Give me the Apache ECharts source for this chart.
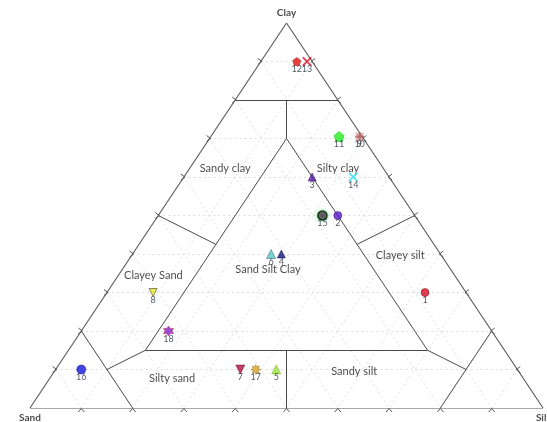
<!DOCTYPE html>
<html>
<head>
<meta charset="utf-8">
<script src="https://cdn.jsdelivr.net/npm/echarts@6/dist/echarts.min.js"></script>
<style>
  html, body { margin: 0; padding: 0; background: #fff; }
  #chart { width: 547px; height: 422px; }
</style>
</head>
<body>
<div id="chart"></div>
<script>
// Sediment samples: percentages of sand, silt and clay
const sampleIds = ['1','2','3','4','5','6','7','8','9','10','11','12','13','14','15','16','17','18'];
const sandPct = [8, 15, 15, 31, 47, 33, 54, 61, 0.5, 0.5, 4.5, 3, 1, 7, 18, 85, 51, 63];
const siltPct = [62, 35, 25, 29, 43, 27, 36, 9, 29, 29, 25, 7, 9, 33, 32, 5, 39, 17];
const clayPct = [30, 50, 60, 40, 10, 40, 10, 30, 70.5, 70.5, 70.5, 90, 90, 60, 50, 10, 10, 20];

// Ternary tick percentages on each side
const tickPct = [10, 20, 30, 40, 50, 60, 70, 80, 90];

// Corner names (sand, silt, clay apexes)
const cornerNames = ['Sand', 'Silt', 'Clay'];

// Shepard-type classes: names and where their captions sit (sand, silt, clay %)
const classNames = ['Sandy clay', 'Silty clay', 'Clayey Sand', 'Sand Silt Clay', 'Clayey silt', 'Silty sand', 'Sandy silt'];
const classAnchors = [[30.8, 6.9, 62.3], [8.8, 28.9, 62.3], [58.8, 6.9, 34.3], [35.6, 28.4, 36.0], [8.0, 52.3, 39.7], [68.4, 23.8, 7.8], [32.1, 58.5, 9.4]];

// Class boundaries as segments (sand, silt, clay %)
const classBoundaries = [
  [[20, 0, 80], [0, 20, 80]],
  [[80, 20, 0], [80, 0, 20]],
  [[20, 80, 0], [0, 80, 20]],
  [[70, 15, 15], [15, 70, 15]],
  [[15, 70, 15], [15, 15, 70]],
  [[15, 15, 70], [70, 15, 15]],
  [[10, 10, 80], [15, 15, 70]],
  [[50, 0, 50], [42.5, 15, 42.5]],
  [[0, 50, 50], [15, 42.5, 42.5]],
  [[80, 10, 10], [70, 15, 15]],
  [[10, 80, 10], [15, 70, 15]],
  [[50, 50, 0], [42.5, 42.5, 15]]
];

// ternary -> plot space: x = silt + clay/2, y = clay
function tern(sand, silt, clay) {
  const t = sand + silt + clay;
  return [(silt + clay / 2) / t, clay / t];
}

const outline = [
  [[100, 0, 0], [0, 100, 0]],
  [[0, 100, 0], [0, 0, 100]],
  [[0, 0, 100], [100, 0, 0]]
];

// dashed reference grid at every tick
const gridSegs = [];
tickPct.forEach(function (p) {
  const q = 100 - p;
  gridSegs.push([[q, 0, p], [0, q, p]]);   // constant clay
  gridSegs.push([[p, 0, q], [p, q, 0]]);   // constant sand
  gridSegs.push([[0, p, q], [q, p, 0]]);   // constant silt
});

function segData(segs) {
  return segs.map(function (s) {
    return { coords: [tern.apply(null, s[0]), tern.apply(null, s[1])] };
  });
}

// tick marks along the three sides: [x, y, side]
const tickData = [];
tickPct.forEach(function (p) {
  const a = tern(100 - p, 0, p);      // left side (sand-clay)
  tickData.push([a[0], a[1], 0]);
  const b = tern(0, 100 - p, p);      // right side (silt-clay)
  tickData.push([b[0], b[1], 1]);
  const c = tern(100 - p, p, 0);      // base (sand-silt)
  tickData.push([c[0], c[1], 2]);
});

// marker shapes and colours per sample
const P = {
  x: 'path://M1,0 L5,4 L9,0 L10,1 L6,5 L10,9 L9,10 L5,6 L1,10 L0,9 L4,5 L0,1 Z',
  plus: 'path://M4,0 H6 V4 H10 V6 H6 V10 H4 V6 H0 V4 H4 Z',
  down: 'path://M0,0 L10,0 L5,9 Z',
  star6: 'path://M5,0 L6.5,2.4 L9.3,2.5 L8,5 L9.3,7.5 L6.5,7.6 L5,10 L3.5,7.6 L0.7,7.5 L2,5 L0.7,2.5 L3.5,2.4 Z',
  sun: 'path://M5,0 L6,2.6 L8.54,1.46 L7.4,4 L10,5 L7.4,6 L8.54,8.54 L6,7.4 L5,10 L4,7.4 L1.46,8.54 L2.6,6 L0,5 L2.6,4 L1.46,1.46 L4,2.6 Z',
  penta: 'path://M5,0 L10,3.8 L8.1,10 L1.9,10 L0,3.8 Z'
};
const markerStyles = {
  '1':  { symbol: 'circle', size: 8, color: '#d4102a', border: '#8a0010' },
  '2':  { symbol: 'circle', size: 8, color: '#5a1cc8', border: '#2a0a80' },
  '3':  { symbol: 'triangle', size: 8, color: '#5a1a9e', border: '#2a0a60' },
  '4':  { symbol: 'triangle', size: 8, color: '#14147e', border: '#0a0a40' },
  '5':  { symbol: 'triangle', size: 9, color: '#9ee83a', border: '#7aa010' },
  '6':  { symbol: 'triangle', size: 9, color: '#5cc4c4', border: '#2a5a6a' },
  '7':  { symbol: P.down, size: 9, color: '#b0103c', border: '#700020' },
  '8':  { symbol: P.down, size: 8, color: '#e8e820', border: '#111111' },
  '9':  { symbol: P.x, size: 8, color: '#e89090', border: '#e89090' },
  '10': { symbol: P.plus, size: 8, color: '#a86060', border: '#a86060' },
  '11': { symbol: P.penta, size: 10, color: '#22ee22', border: '#18c018' },
  '12': { symbol: P.penta, size: 8, color: '#e01010', border: '#a00000' },
  '13': { symbol: P.x, size: 9, color: '#d01028', border: '#d01028' },
  '14': { symbol: P.x, size: 9, color: '#33ddee', border: '#33ddee' },
  '15': { symbol: 'circle', size: 9, color: '#6a1a5a', border: '#111111', glow: '#33ee55' },
  '16': { symbol: 'circle', size: 9, color: '#1414e0', border: '#000080' },
  '17': { symbol: P.sun, size: 10, color: '#d8a820', border: '#9a7010' },
  '18': { symbol: P.star6, size: 10, color: '#8020c8', border: '#c01040' }
};

const samplePoints = sampleIds.map(function (id, i) {
  const st = markerStyles[id];
  const xy = tern(sandPct[i], siltPct[i], clayPct[i]);
  return {
    name: id,
    value: xy,
    symbol: st.symbol,
    symbolSize: st.size,
    itemStyle: {
      color: st.color,
      borderColor: st.border,
      borderWidth: st.glow ? 1.6 : 0.6,
      shadowColor: st.glow || 'transparent',
      shadowBlur: st.glow ? 3 : 0
    }
  };
});

const classLabels = classNames.map(function (n, i) {
  return { name: n, value: tern.apply(null, classAnchors[i]) };
});

const cornerLabels = cornerNames.map(function (n, i) {
  const v = [0, 0, 0];
  v[i] = 100;
  return {
    name: n,
    value: tern.apply(null, v),
    label: { offset: [0, i === 2 ? -10 : 10] }
  };
});

const chart = echarts.init(document.getElementById('chart'), null, { renderer: 'canvas' });

chart.setOption({
  animation: false,
  backgroundColor: '#ffffff',
  grid: { left: 30, right: 4, top: 23, bottom: 14 },
  xAxis: { type: 'value', min: 0, max: 1, show: false },
  yAxis: { type: 'value', min: 0, max: 1, show: false },
  series: [
    {
      type: 'lines',
      coordinateSystem: 'cartesian2d',
      silent: true,
      data: segData(gridSegs),
      lineStyle: { color: '#dedede', width: 1, type: [2, 3], opacity: 1 },
      z: 1
    },
    {
      type: 'lines',
      coordinateSystem: 'cartesian2d',
      silent: true,
      data: segData(classBoundaries),
      lineStyle: { color: '#4a4a4a', width: 1, opacity: 1 },
      z: 2
    },
    {
      type: 'lines',
      coordinateSystem: 'cartesian2d',
      silent: true,
      data: segData(outline),
      lineStyle: { color: '#555555', width: 1.1, opacity: 1 },
      z: 3
    },
    {
      type: 'custom',
      coordinateSystem: 'cartesian2d',
      silent: true,
      data: tickData,
      z: 3,
      renderItem: function (params, api) {
        const p = api.coord([api.value(0), api.value(1)]);
        const side = api.value(2);
        let pts;
        if (side === 0) {
          pts = [[p[0] - 3, p[1] - 3], [p[0] + 1, p[1]], [p[0] - 3, p[1] + 3]];
        } else if (side === 1) {
          pts = [[p[0] + 3, p[1] - 3], [p[0] - 1, p[1]], [p[0] + 3, p[1] + 3]];
        } else {
          pts = [[p[0] - 3, p[1] + 4], [p[0], p[1] + 0.5], [p[0] + 3, p[1] + 4]];
        }
        return {
          type: 'polyline',
          shape: { points: pts },
          style: { stroke: '#555555', fill: null, lineWidth: 1 }
        };
      }
    },
    {
      type: 'scatter',
      clip: false,
      silent: true,
      data: classLabels,
      symbolSize: 1,
      itemStyle: { color: 'rgba(0,0,0,0)' },
      label: {
        show: true,
        position: 'inside',
        formatter: '{b}',
        color: '#1a1a1a',
        fontFamily: 'Lato',
        fontSize: 11
      },
      z: 4
    },
    {
      type: 'scatter',
      clip: false,
      silent: true,
      data: cornerLabels,
      symbolSize: 1,
      itemStyle: { color: 'rgba(0,0,0,0)' },
      label: {
        show: true,
        position: 'inside',
        formatter: '{b}',
        color: '#1a1a1a',
        fontFamily: 'Lato',
        fontWeight: 'bold',
        fontSize: 10
      },
      z: 4
    },
    {
      type: 'scatter',
      clip: false,
      data: samplePoints,
      label: {
        show: true,
        position: 'inside',
        offset: [0, 8],
        formatter: '{b}',
        color: '#1f2a3a',
        fontFamily: 'Lato',
        fontSize: 9
      },
      z: 5
    }
  ]
});
</script>
</body>
</html>
